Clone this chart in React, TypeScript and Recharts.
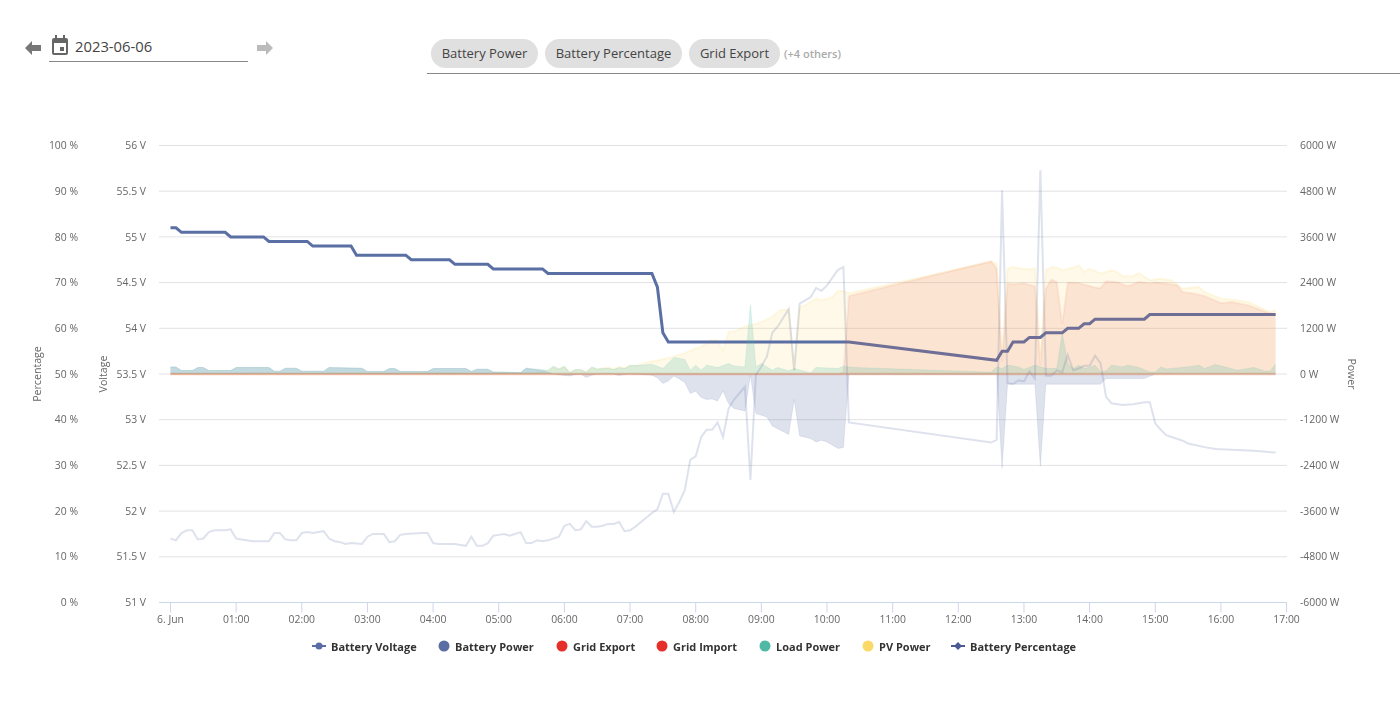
import { Area, CartesianGrid, ComposedChart, Legend, Line, XAxis, YAxis } from "recharts";

// all times are minutes after midnight on 2023-06-06
const percentTimes = [0, 5, 10, 50, 55, 85, 90, 125, 130, 165, 170, 215, 220, 255, 260, 290, 295, 340, 345, 440, 445, 450, 455, 620, 755, 760, 765, 770, 780, 785, 795, 800, 815, 820, 830, 835, 840, 845, 890, 895, 1010];
const percentValues = [82, 82, 81, 81, 80, 80, 79, 79, 78, 78, 76, 76, 75, 75, 74, 74, 73, 73, 72, 72, 69, 59, 57, 57, 53, 55, 55, 57, 57, 58, 58, 59, 59, 60, 60, 61, 61, 62, 62, 63, 63];

const voltageTimes = [0, 5, 10, 15, 20, 25, 30, 35, 40, 50, 55, 60, 65, 75, 90, 95, 100, 105, 110, 115, 120, 125, 130, 140, 145, 150, 155, 160, 165, 175, 180, 185, 195, 200, 205, 210, 215, 230, 235, 240, 245, 260, 265, 270, 275, 280, 285, 290, 295, 300, 305, 310, 320, 325, 330, 335, 340, 345, 355, 360, 365, 370, 375, 380, 385, 390, 395, 400, 405, 410, 415, 420, 425, 430, 440, 445, 450, 455, 460, 465, 470, 475, 480, 485, 490, 495, 500, 505, 510, 515, 525, 530, 535, 540, 545, 550, 555, 565, 570, 575, 585, 590, 595, 600, 610, 615, 620, 750, 755, 760, 765, 770, 775, 780, 785, 790, 795, 800, 805, 810, 815, 820, 825, 830, 835, 840, 845, 850, 855, 860, 870, 880, 890, 895, 900, 905, 910, 925, 930, 945, 955, 970, 990, 1010];
const voltageValues = [51.7, 51.68, 51.76, 51.79, 51.79, 51.69, 51.7, 51.77, 51.79, 51.79, 51.8, 51.7, 51.69, 51.67, 51.67, 51.76, 51.76, 51.69, 51.68, 51.68, 51.76, 51.77, 51.76, 51.78, 51.7, 51.67, 51.66, 51.64, 51.65, 51.64, 51.72, 51.75, 51.75, 51.66, 51.67, 51.74, 51.75, 51.76, 51.76, 51.65, 51.64, 51.64, 51.63, 51.62, 51.72, 51.62, 51.62, 51.65, 51.73, 51.74, 51.75, 51.73, 51.77, 51.65, 51.65, 51.68, 51.67, 51.68, 51.72, 51.84, 51.86, 51.79, 51.8, 51.89, 51.83, 51.83, 51.84, 51.86, 51.86, 51.88, 51.78, 51.79, 51.83, 51.88, 51.98, 52.02, 52.19, 52.19, 51.99, 52.1, 52.23, 52.56, 52.6, 52.81, 52.89, 52.89, 52.97, 52.81, 53.12, 53.22, 53.36, 52.34, 53.49, 53.58, 53.69, 53.95, 54.02, 54.21, 53.54, 54.27, 54.34, 54.44, 54.41, 54.47, 54.64, 54.67, 52.97, 52.75, 52.78, 55.51, 53.4, 53.39, 53.43, 53.42, 53.53, 53.45, 55.73, 53.48, 53.48, 53.54, 53.52, 53.71, 53.54, 53.56, 53.59, 53.59, 53.7, 53.62, 53.25, 53.18, 53.16, 53.17, 53.19, 53.19, 52.96, 52.89, 52.83, 52.77, 52.74, 52.7, 52.68, 52.67, 52.66, 52.64];

// the battery carries the house overnight, so it sits above zero until sunrise
const batteryTimes = [0, 5, 10, 20, 25, 30, 35, 55, 60, 90, 95, 100, 105, 115, 120, 140, 145, 175, 180, 195, 200, 205, 210, 235, 240, 270, 275, 280, 290, 295, 320, 325, 340, 350, 360, 365, 370, 375, 380, 385, 390, 405, 410, 415, 420, 430, 440, 445, 450, 455, 460, 465, 470, 475, 480, 485, 490, 495, 500, 505, 510, 515, 525, 530, 535, 545, 550, 565, 570, 575, 585, 590, 595, 600, 610, 615, 620, 750, 755, 760, 765, 790, 795, 800, 850, 855, 890, 900, 1010];
const batteryValues = [186, 186, 92, 92, 171, 171, 92, 92, 171, 171, 74, 74, 152, 152, 74, 74, 171, 152, 66, 66, 144, 144, 66, 66, 144, 144, 66, 126, 126, 55, 39, 152, 90, 0, -40, -50, -10, 0, -90, -30, 0, 0, -40, -10, 0, -10, -30, -100, -250, -181, -50, -130, -223, -512, -452, -617, -670, -654, -706, -444, -775, -906, -969, -30, -1037, -1127, -1363, -1589, -670, -1625, -1694, -1783, -1738, -1783, -1956, -1930, -10, -10, 0, -2474, -268, -268, -2421, -268, -268, -118, -118, 0, 0];

const exportTimes = [0, 610, 615, 620, 750, 755, 760, 765, 770, 780, 790, 795, 800, 805, 810, 815, 820, 830, 845, 850, 855, 865, 875, 885, 895, 900, 910, 920, 925, 935, 945, 960, 970, 985, 1005, 1010];
const exportValues = [0, 0, 30, 2050, 2962, 2770, 318, 2376, 2358, 2384, 2305, 231, 2245, 2481, 2419, 1326, 2403, 2392, 2271, 2261, 2437, 2419, 2306, 2419, 2376, 2403, 2376, 2332, 2156, 2114, 2051, 1867, 1893, 1807, 1589, 1578];

const importTimes = [0, 1010];
const importValues = [0, 0];

const loadTimes = [0, 5, 10, 20, 25, 30, 35, 55, 60, 90, 95, 100, 105, 115, 120, 140, 145, 175, 180, 195, 200, 205, 210, 235, 240, 270, 275, 280, 290, 295, 320, 325, 345, 350, 355, 360, 365, 370, 375, 380, 385, 390, 395, 400, 405, 410, 415, 420, 430, 440, 450, 460, 470, 475, 480, 485, 490, 500, 510, 515, 525, 530, 535, 540, 550, 555, 565, 570, 585, 590, 610, 615, 620, 625, 750, 755, 760, 765, 775, 780, 790, 800, 810, 815, 820, 825, 830, 835, 840, 845, 850, 855, 860, 870, 875, 885, 895, 900, 905, 910, 930, 940, 945, 955, 975, 990, 1000, 1005, 1010];
const loadValues = [186, 186, 92, 92, 171, 171, 92, 92, 171, 171, 74, 74, 152, 152, 74, 74, 171, 152, 66, 66, 144, 144, 66, 66, 144, 144, 66, 126, 126, 55, 39, 152, 100, 205, 134, 205, 39, 118, 118, 55, 186, 134, 144, 152, 118, 171, 144, 223, 231, 257, 144, 433, 381, 100, 231, 100, 231, 171, 276, 213, 186, 1807, 186, 276, 100, 171, 81, 144, 29, 171, 144, 205, 186, 171, 47, 186, 144, 231, 186, 118, 231, 144, 144, 1063, 276, 144, 231, 152, 170, 231, 55, 81, 231, 186, 231, 171, 55, 55, 186, 134, 186, 231, 144, 249, 100, 171, 81, 81, 257];

const pvTimes = [0, 330, 345, 350, 355, 360, 365, 370, 375, 380, 385, 390, 395, 400, 405, 410, 415, 420, 426, 436, 449, 459, 470, 480, 485, 493, 500, 505, 510, 516, 526, 536, 542, 550, 557, 565, 570, 575, 580, 590, 595, 605, 610, 615, 620, 750, 755, 760, 765, 770, 780, 790, 795, 800, 805, 810, 815, 825, 830, 835, 840, 850, 860, 865, 870, 880, 885, 895, 905, 915, 925, 940, 945, 960, 975, 985, 1005, 1010];
const pvValues = [0, 20, 80, 180, 120, 190, 30, 110, 100, 40, 170, 120, 150, 170, 130, 180, 160, 230, 213, 318, 381, 449, 554, 670, 712, 888, 888, 607, 1105, 1132, 1255, 1326, 1394, 1500, 1675, 1694, 100, 1762, 1807, 1983, 1938, 2025, 2182, 2182, 2122, 2944, 2902, 467, 2770, 2812, 2752, 2770, 449, 2726, 2812, 2796, 2726, 2796, 2857, 2681, 2770, 2639, 2726, 2681, 2576, 2568, 2655, 2463, 2508, 2463, 2245, 2287, 2156, 1983, 1938, 1893, 1631, 1675];

const hourTicks = [0, 60, 120, 180, 240, 300, 360, 420, 480, 540, 600, 660, 720, 780, 840, 900, 960, 1020];
const percentTicks = [0, 10, 20, 30, 40, 50, 60, 70, 80, 90, 100];
const voltageTicks = [51, 51.5, 52, 52.5, 53, 53.5, 54, 54.5, 55, 55.5, 56];
const powerTicks = [-6000, -4800, -3600, -2400, -1200, 0, 1200, 2400, 3600, 4800, 6000];

const legendNames = ["Battery Voltage", "Battery Power", "Grid Export", "Grid Import", "Load Power", "PV Power", "Battery Percentage"];
const legendColors = ["#5a6ea3", "#5a6ea3", "#e5302a", "#e5302a", "#4fb9a5", "#fbd968", "#4a5b94"];
const legendLeft = [312, 438, 556, 656, 759, 862, 951];

const chips = [
  { label: "Battery Power", left: 431, width: 107 },
  { label: "Battery Percentage", left: 545, width: 137 },
  { label: "Grid Export", left: 689, width: 91 },
];

const FONT = "'Open Sans', sans-serif";

function buildRows() {
  const rows = new Map<number, any>();
  const add = (key: string, times: number[], values: number[]) => {
    times.forEach((t, i) => {
      if (!rows.has(t)) rows.set(t, { t });
      rows.get(t)[key] = values[i];
    });
  };
  add("percent", percentTimes, percentValues);
  add("voltage", voltageTimes, voltageValues);
  add("battery", batteryTimes, batteryValues);
  add("gridExport", exportTimes, exportValues);
  add("gridImport", importTimes, importValues);
  add("load", loadTimes, loadValues);
  add("pv", pvTimes, pvValues);
  return Array.from(rows.values()).sort((a, b) => a.t - b.t);
}

const rows = buildRows();

function formatHour(t: number): string {
  if (t === 0) return "6. Jun";
  return `${String(t / 60).padStart(2, "0")}:00`;
}

function ChartLegend() {
  return (
    <div style={{ position: "relative", height: 20, fontFamily: FONT, fontSize: 11, fontWeight: 700, color: "#333" }}>
      {legendNames.map((name, i) => {
        const isLine = i === 0 || i === 6;
        return (
          <div key={name} style={{ position: "absolute", left: legendLeft[i], top: 0, height: 20, display: "flex", alignItems: "center", whiteSpace: "nowrap" }}>
            <svg width={isLine ? 14 : 12} height={12} style={{ marginRight: 5 }}>
              {isLine && <line x1={0} x2={14} y1={6} y2={6} stroke={legendColors[i]} strokeWidth={2} />}
              {i === 0 && <circle cx={7} cy={6} r={3.5} fill={legendColors[i]} />}
              {i === 6 && <path d="M7 2 L11 6 L7 10 L3 6 Z" fill={legendColors[i]} />}
              {!isLine && <circle cx={6} cy={6} r={5.5} fill={legendColors[i]} />}
            </svg>
            {name}
          </div>
        );
      })}
    </div>
  );
}

function Header() {
  return (
    <div style={{ fontFamily: FONT }}>
      <svg width={18} height={16} style={{ position: "absolute", left: 25, top: 40 }}>
        <path d="M0 8 L7 1 L7 5 L16 5 L16 11 L7 11 L7 15 Z" fill="#777" />
      </svg>
      <svg width={18} height={20} style={{ position: "absolute", left: 51, top: 35 }}>
        <path d="M3 3 H15 A2 2 0 0 1 17 5 V18 A2 2 0 0 1 15 20 H3 A2 2 0 0 1 1 18 V5 A2 2 0 0 1 3 3 Z M3 8 V18 H15 V8 Z" fill="#666" fillRule="evenodd" />
        <rect x={4} y={0} width={2} height={5} fill="#666" />
        <rect x={12} y={0} width={2} height={5} fill="#666" />
        <rect x={9} y={12} width={4} height={4} fill="#666" />
      </svg>
      <div style={{ position: "absolute", left: 75, top: 35, fontSize: 14.8, color: "#444", lineHeight: "22px" }}>2023-06-06</div>
      <div style={{ position: "absolute", left: 49, top: 61, width: 199, height: 1, background: "#888" }} />
      <svg width={18} height={16} style={{ position: "absolute", left: 257, top: 40 }}>
        <path d="M16 8 L9 1 L9 5 L0 5 L0 11 L9 11 L9 15 Z" fill="#bbb" />
      </svg>
      {chips.map((c) => (
        <div
          key={c.label}
          style={{
            position: "absolute", left: c.left, top: 39, width: c.width, height: 29, borderRadius: 15,
            background: "#e0e0e0", fontSize: 13, color: "#444", lineHeight: "29px", textAlign: "center", whiteSpace: "nowrap",
          }}
        >
          {c.label}
        </div>
      ))}
      <div style={{ position: "absolute", left: 784, top: 46, fontSize: 11, fontWeight: 600, color: "#aaa", whiteSpace: "nowrap" }}>(+4 others)</div>
      <div style={{ position: "absolute", left: 427, top: 73, width: 973, height: 1, background: "#888" }} />
    </div>
  );
}

export default function App() {
  const tick = { fontSize: 10.4, fill: "#666", fontFamily: FONT };
  const axisTitle = { fontSize: 10.6, fill: "#666", fontFamily: FONT, textAnchor: "middle" as const };
  return (
    <div style={{ position: "absolute", left: 0, top: 0, width: 1400, height: 720, background: "#fff", overflow: "hidden" }}>
      <Header />
      <div style={{ position: "absolute", left: 0, top: 0, width: 1400, height: 720, willChange: "transform" }}>
        <ComposedChart
          width={1400}
          height={720}
          data={rows}
          margin={{ top: 145.5, right: 0, bottom: 0, left: 0 }}
        >
          <CartesianGrid yAxisId="percent" vertical={false} stroke="#e2e2e6" />
          <XAxis
            xAxisId="time"
            dataKey="t"
            type="number"
            scale="linear"
            domain={[-10.5, 1020.4]}
            ticks={hourTicks}
            tickFormatter={formatHour}
            interval={0}
            height={117.5}
            tick={tick}
            stroke="#ccd6eb"
            tickSize={10}
            tickMargin={3}
          />
          <YAxis
            yAxisId="batteryVolts"
            orientation="left"
            width={74}
            domain={[51, 56]}
            ticks={voltageTicks}
            interval={0}
            tickFormatter={(v: number) => `${v} V`}
            tick={tick}
            axisLine={false}
            tickSize={0}
            tickMargin={13}
            label={{ value: "Voltage", angle: -90, position: "insideLeft", offset: 18, style: axisTitle }}
          />
          <YAxis
            yAxisId="percent"
            orientation="left"
            width={85}
            domain={[0, 100]}
            ticks={percentTicks}
            interval={0}
            tickFormatter={(v: number) => `${v} %`}
            tick={tick}
            axisLine={false}
            tickSize={0}
            tickMargin={7}
            label={{ value: "Percentage", angle: -90, position: "insideLeft", offset: 37, style: axisTitle }}
          />
          <YAxis
            yAxisId="power"
            orientation="right"
            width={113}
            domain={[-6000, 6000]}
            ticks={powerTicks}
            interval={0}
            tickFormatter={(v: number) => `${v} W`}
            tick={tick}
            axisLine={false}
            tickSize={0}
            tickMargin={13}
            label={{ value: "Power", angle: 90, position: "insideRight", offset: 48, style: axisTitle }}
          />
          <Legend layout="horizontal" verticalAlign="middle" align="center" wrapperStyle={{ top: 636, left: 0, width: 1400, height: 20 }} content={<ChartLegend />} />

          <Area xAxisId="time" yAxisId="power" dataKey="pv" stroke="#fbd968" strokeOpacity={0.15} strokeWidth={2} fill="#fbd968" fillOpacity={0.15} dot={false} connectNulls isAnimationActive={false} zIndex={40} />
          <Line xAxisId="time" yAxisId="percent" dataKey="percent" stroke="#5a6fa3" strokeWidth={3} dot={false} connectNulls isAnimationActive={false} zIndex={50} />
          <Line xAxisId="time" yAxisId="batteryVolts" dataKey="voltage" stroke="#5a6ea3" strokeOpacity={0.2} strokeWidth={2} dot={false} connectNulls isAnimationActive={false} />
          <Area xAxisId="time" yAxisId="power" dataKey="battery" stroke="#5a6ea3" strokeOpacity={0.12} strokeWidth={1} fill="#5a6ea3" fillOpacity={0.2} dot={false} connectNulls isAnimationActive={false} />
          <Area xAxisId="time" yAxisId="power" dataKey="gridExport" stroke="#ee6a50" strokeOpacity={0.1} strokeWidth={2} fill="#ee6a50" fillOpacity={0.15} dot={false} connectNulls isAnimationActive={false} />
          <Area xAxisId="time" yAxisId="power" dataKey="gridImport" stroke="#e5602a" strokeOpacity={0.35} strokeWidth={2.4} fill="#e5302a" fillOpacity={0.2} dot={false} connectNulls isAnimationActive={false} />
          <Area xAxisId="time" yAxisId="power" dataKey="load" stroke="#4fb9a5" strokeOpacity={0.15} strokeWidth={1} fill="#4fb9a5" fillOpacity={0.2} dot={false} connectNulls isAnimationActive={false} />
        </ComposedChart>
      </div>
    </div>
  );
}
